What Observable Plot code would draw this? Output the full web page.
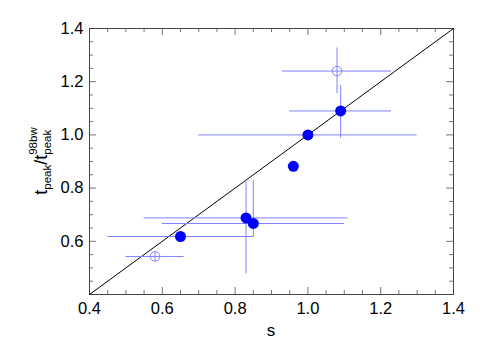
<!DOCTYPE html>
<html>
<head>
<meta charset="utf-8">
<script src="https://cdn.jsdelivr.net/npm/d3@7"></script>
<script src="https://cdn.jsdelivr.net/npm/@observablehq/plot@0.6"></script>
<style>
  html, body { margin: 0; padding: 0; background: #fff; }
  #chart { width: 480px; height: 351px; }
</style>
</head>
<body>
<div id="chart"></div>
<script>
// Data
const sVals    = [0.58, 0.65, 0.83, 0.85, 0.96, 1.00, 1.09, 1.08];
const ratio    = [0.543, 0.618, 0.688, 0.667, 0.882, 1.00, 1.09, 1.24];
const sLow     = [0.50, 0.45, 0.55, 0.60, null, 0.70, 0.95, 0.93];
const sHigh    = [0.66, 0.85, 1.11, 1.10, null, 1.30, 1.23, 1.23];
const rLow     = [0.525, null, 0.478, 0.615, 0.870, null, 0.988, 1.155];
const rHigh    = [0.560, null, 0.828, 0.828, 0.895, null, 1.186, 1.327];
const isOpen   = [true, false, false, false, false, false, false, true];

const xMajor = [0.4, 0.6, 0.8, 1.0, 1.2, 1.4];
const yMajor = [0.4, 0.6, 0.8, 1.0, 1.2, 1.4];
const yLabels = [0.6, 0.8, 1.0, 1.2, 1.4];
const minorTicks = [0.45, 0.5, 0.55, 0.65, 0.7, 0.75, 0.85, 0.9, 0.95, 1.05, 1.1, 1.15, 1.25, 1.3, 1.35];
const diag = [0.4, 1.4];

const pts = sVals.map((s, i) => ({
  s, r: ratio[i], sl: sLow[i], sh: sHigh[i], rl: rLow[i], rh: rHigh[i], open: isOpen[i]
}));

const W = 480, H = 351;
const mL = 89, mR = 27, mT = 28, mB = 57;
const innerW = W - mL - mR, innerH = H - mT - mB;
const errColor = "#8080ff";
const tickColor = "#777";
const font = "'Liberation Sans', Arial, Helvetica, sans-serif";

const chart = Plot.plot({
  width: W, height: H,
  marginLeft: mL, marginRight: mR, marginTop: mT, marginBottom: mB,
  style: { fontFamily: font, fontSize: "16.5px", background: "#fff" },
  x: { domain: [0.4, 1.4], label: null },
  y: { domain: [0.4, 1.4], label: null },
  marks: [
    // inward ticks, bottom & top
    Plot.tickX(xMajor, { x: d => d, insetTop: innerH - 7, stroke: tickColor }),
    Plot.tickX(xMajor, { x: d => d, insetBottom: innerH - 7, stroke: tickColor }),
    Plot.tickX(minorTicks, { x: d => d, insetTop: innerH - 4, stroke: tickColor }),
    Plot.tickX(minorTicks, { x: d => d, insetBottom: innerH - 4, stroke: tickColor }),
    // inward ticks, left & right
    Plot.tickY(yMajor, { y: d => d, insetRight: innerW - 7, stroke: tickColor }),
    Plot.tickY(yMajor, { y: d => d, insetLeft: innerW - 7, stroke: tickColor }),
    Plot.tickY(minorTicks, { y: d => d, insetRight: innerW - 4, stroke: tickColor }),
    Plot.tickY(minorTicks, { y: d => d, insetLeft: innerW - 4, stroke: tickColor }),
    Plot.frame({ stroke: "#444", strokeWidth: 1 }),
    Plot.axisX(xMajor, { tickSize: 0, tickPadding: 8, tickFormat: d3.format(".1f"), fill: "#000" }),
    Plot.axisY(yLabels, { tickSize: 0, tickPadding: 6, tickFormat: d3.format(".1f"), fill: "#000" }),
    // one-to-one line
    Plot.line(diag, { x: d => d, y: d => d, stroke: "#000", strokeWidth: 1 }),
    // error bars
    Plot.ruleY(pts.filter(d => d.sl != null), { y: "r", x1: "sl", x2: "sh", stroke: errColor, strokeWidth: 1 }),
    Plot.ruleX(pts.filter(d => d.rl != null), { x: "s", y1: "rl", y2: "rh", stroke: errColor, strokeWidth: 1 }),
    // points
    Plot.dot(pts.filter(d => !d.open), { x: "s", y: "r", r: 5.5, fill: "#0000ff", stroke: "none" }),
    Plot.dot(pts.filter(d => d.open), { x: "s", y: "r", r: 4.8, fill: "none", stroke: errColor, strokeWidth: 1 })
  ]
});

const svg = d3.select(chart);
// x axis label
svg.append("text")
  .attr("x", mL + innerW / 2).attr("y", 336)
  .attr("text-anchor", "middle")
  .attr("font-size", 17)
  .attr("font-family", font)
  .attr("fill", "#000")
  .text("s");
// y axis label with sub/superscripts
const yl = svg.append("text")
  .attr("transform", `translate(47, ${mT + innerH / 2}) rotate(-90)`)
  .attr("text-anchor", "middle")
  .attr("font-size", 18)
  .attr("font-family", font)
  .attr("fill", "#000");
yl.append("tspan").text("t");
yl.append("tspan").attr("font-size", 11.5).attr("dy", 4).text("peak");
yl.append("tspan").attr("dy", -4).text("/t");
yl.append("tspan").attr("font-size", 11.5).attr("dy", 4).text("peak");
yl.append("tspan").attr("font-size", 11.5).attr("dx", -25).attr("dy", -14).text("98bw");

document.getElementById("chart").appendChild(chart);
</script>
</body>
</html>
